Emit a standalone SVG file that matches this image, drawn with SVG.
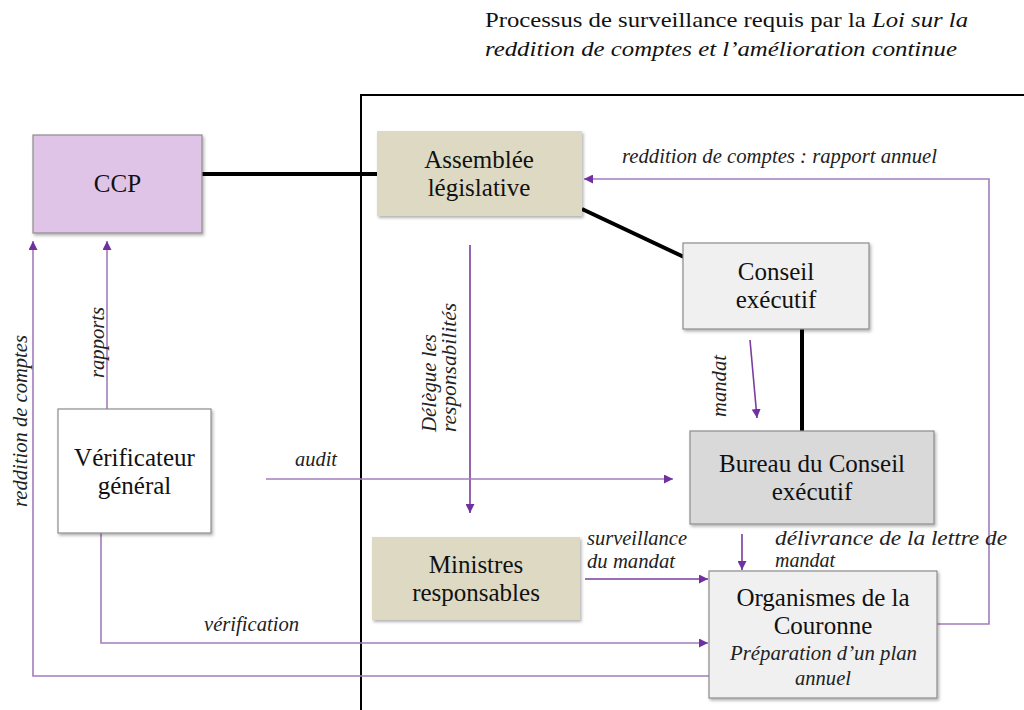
<svg xmlns="http://www.w3.org/2000/svg" width="1024" height="710" viewBox="0 0 1024 710">
<style>
text{font-family:'Liberation Serif','DejaVu Serif',serif}
.node{font-size:25px;fill:#111;text-anchor:middle}
.lbl{font-size:20px;font-style:italic;fill:#222}
.title{font-size:22px;fill:#111}
.box{stroke:#8c8c8c;stroke-width:1.2}
.blk{stroke:#000;stroke-width:4;fill:none}
.frame{stroke:#000;stroke-width:2;fill:none}
.arr{stroke:#a27cbb;stroke-width:1.6;fill:none}
.arrD{stroke:#7a3d9e;stroke-width:1.6;fill:none}
</style>
<defs>
<marker id="ah" viewBox="0 0 10 10" refX="10" refY="5" markerWidth="9" markerHeight="9" markerUnits="userSpaceOnUse" orient="auto">
<path d="M0,0 L10,5 L0,10 z" fill="#7030a0"/>
</marker>
<filter id="sh" x="-5%" y="-5%" width="115%" height="120%">
<feDropShadow dx="1.5" dy="2" stdDeviation="1.5" flood-color="#000" flood-opacity="0.3"/>
</filter>
</defs>
<rect width="1024" height="710" fill="#fff"/>

<g id="title">
<text class="title" x="485" y="27" textLength="483" lengthAdjust="spacingAndGlyphs">Processus de surveillance requis par la <tspan font-style="italic">Loi sur la</tspan></text>
<text class="title" x="485" y="56" font-style="italic" textLength="472" lengthAdjust="spacingAndGlyphs">reddition de comptes et l’amélioration continue</text>
</g>

<g id="frame">
<path class="frame" d="M361,710 V95 H1024"/>
</g>

<g id="connectors">
<line class="blk" x1="202" y1="174" x2="377" y2="174"/>
<line class="blk" x1="582" y1="209" x2="684" y2="257"/>
<line class="blk" x1="802" y1="329" x2="802" y2="431"/>
<polyline class="arr" points="937,624 989,624 989,179 584,179" marker-end="url(#ah)"/>
<line class="arrD" x1="470" y1="245" x2="470" y2="513" marker-end="url(#ah)"/>
<line class="arrD" x1="750" y1="340" x2="757" y2="418" marker-end="url(#ah)"/>
<line class="arr" x1="266" y1="479" x2="673" y2="479" marker-end="url(#ah)"/>
<line class="arr" x1="107" y1="409" x2="107" y2="241" marker-end="url(#ah)"/>
<polyline class="arr" points="709,676 33,676 33,241" marker-end="url(#ah)"/>
<polyline class="arr" points="101,533 101,643 708,643" marker-end="url(#ah)"/>
<line class="arrD" x1="585" y1="579" x2="708" y2="579" marker-end="url(#ah)"/>
<line class="arrD" x1="742" y1="534" x2="742" y2="570" marker-end="url(#ah)"/>
<text class="lbl" x="622" y="163" textLength="315" lengthAdjust="spacingAndGlyphs">reddition de comptes : rapport annuel</text>
<text class="lbl" x="295" y="466" textLength="42" lengthAdjust="spacingAndGlyphs">audit</text>
<text class="lbl" x="204" y="631" textLength="95" lengthAdjust="spacingAndGlyphs">vérification</text>
<text class="lbl" x="587" y="545" textLength="100" lengthAdjust="spacingAndGlyphs">surveillance</text>
<text class="lbl" x="587" y="568" textLength="88" lengthAdjust="spacingAndGlyphs">du mandat</text>
<text class="lbl" x="775" y="545" textLength="232" lengthAdjust="spacingAndGlyphs">délivrance de la lettre de</text>
<text class="lbl" x="775" y="567" textLength="60" lengthAdjust="spacingAndGlyphs">mandat</text>
<text class="lbl" transform="translate(104,378) rotate(-90)" textLength="71" lengthAdjust="spacingAndGlyphs">rapports</text>
<text class="lbl" transform="translate(27,507) rotate(-90)" textLength="172" lengthAdjust="spacingAndGlyphs">reddition de comptes</text>
<text class="lbl" transform="translate(436,432) rotate(-90)" textLength="98" lengthAdjust="spacingAndGlyphs">Délègue les</text>
<text class="lbl" transform="translate(456,432) rotate(-90)" textLength="129" lengthAdjust="spacingAndGlyphs">responsabilités</text>
<text class="lbl" transform="translate(726,417) rotate(-90)" textLength="62" lengthAdjust="spacingAndGlyphs">mandat</text>
</g>

<g id="ccp">
<rect class="box" x="33" y="135" width="169" height="98" fill="#e0c4e8" filter="url(#sh)"/>
<text class="node" x="117.5" y="192">CCP</text>
</g>

<g id="assemblee">
<rect x="377" y="131" width="205" height="85" fill="#ddd9c3" filter="url(#sh)"/>
<text class="node" x="479" y="168">Assemblée</text>
<text class="node" x="479" y="196">législative</text>
</g>

<g id="conseil">
<rect class="box" x="683" y="243" width="186" height="86" fill="#f0f0f0" filter="url(#sh)"/>
<text class="node" x="776" y="280">Conseil</text>
<text class="node" x="776" y="308">exécutif</text>
</g>

<g id="bureau">
<rect class="box" x="690" y="431" width="244" height="93" fill="#d9d9d9" filter="url(#sh)"/>
<text class="node" x="812" y="472">Bureau du Conseil</text>
<text class="node" x="812" y="500">exécutif</text>
</g>

<g id="verificateur">
<rect class="box" x="58" y="409" width="153" height="124" fill="#ffffff" filter="url(#sh)"/>
<text class="node" x="134.5" y="466">Vérificateur</text>
<text class="node" x="134.5" y="494">général</text>
</g>

<g id="ministres">
<rect x="372" y="537" width="208" height="83" fill="#ddd9c3" filter="url(#sh)"/>
<text class="node" x="476" y="573">Ministres</text>
<text class="node" x="476" y="601">responsables</text>
</g>

<g id="organismes">
<rect class="box" x="709" y="571" width="228" height="127" fill="#f0f0f0" filter="url(#sh)"/>
<text class="node" x="823" y="606">Organismes de la</text>
<text class="node" x="823" y="634">Couronne</text>
<text class="lbl" x="730" y="660" textLength="187" lengthAdjust="spacingAndGlyphs">Préparation d’un plan</text>
<text class="lbl" x="795" y="685" textLength="56" lengthAdjust="spacingAndGlyphs">annuel</text>
</g>
</svg>
